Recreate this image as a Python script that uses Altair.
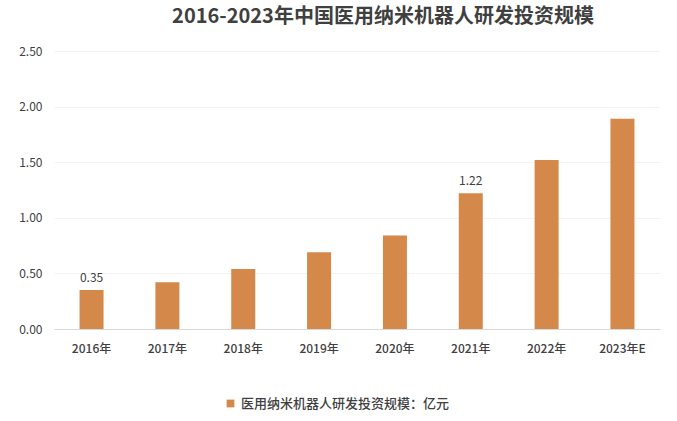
import altair as alt
import pandas as pd

years = ["2016年", "2017年", "2018年", "2019年", "2020年", "2021年", "2022年", "2023年E"]
values = [0.35, 0.42, 0.54, 0.69, 0.84, 1.22, 1.52, 1.89]
labels = ["0.35", "", "", "", "", "1.22", "", ""]
series = "医用纳米机器人研发投资规模：亿元"

df = pd.DataFrame({"year": years, "value": values, "label": labels, "series": series})

FONT = "Noto Sans CJK SC"

base = alt.Chart(df)

bars = base.mark_bar(size=24).encode(
    x=alt.X("year:N", sort=years, title=None,
            scale=alt.Scale(paddingInner=0.67, paddingOuter=0.33),
            axis=alt.Axis(labelAngle=0, labelFont=FONT, labelFontSize=12, labelColor="#404040",
                          labelFontWeight=500, labelPadding=14, ticks=False,
                          domainColor="#d9d9d9", grid=False)),
    y=alt.Y("value:Q", title=None,
            scale=alt.Scale(domain=[0, 2.5], nice=False),
            axis=alt.Axis(values=[0, 0.5, 1.0, 1.5, 2.0, 2.5], format=".2f", labelFont=FONT,
                          labelFontSize=12, labelColor="#404040", labelPadding=12, ticks=False,
                          domain=False, gridColor="#f3f3f3")),
    color=alt.Color("series:N", title=None,
                    scale=alt.Scale(range=["#D4894B"]),
                    legend=alt.Legend(orient="none", legendX=170, legendY=346, symbolType="square",
                                      symbolSize=60, labelFont=FONT, labelFontSize=13,
                                      labelFontWeight=500,
                                      labelColor="#404040", labelLimit=400)),
)

text = base.mark_text(dy=-12, font=FONT, fontSize=12, color="#404040").encode(
    x=alt.X("year:N", sort=years),
    y="value:Q",
    text="label:N",
)

chart = (bars + text).properties(
    width=606, height=278,
    autosize=alt.AutoSizeParams(type="none"),
    padding={"left": 54, "top": 51, "right": 17, "bottom": 92},
    title=alt.Title("2016-2023年中国医用纳米机器人研发投资规模", font=FONT, fontSize=20,
                    fontWeight="bold", color="#404040", offset=18, dx=26),
).configure_view(stroke=None)

chart.save("out.html", embed_options={"renderer": "svg", "actions": False})
